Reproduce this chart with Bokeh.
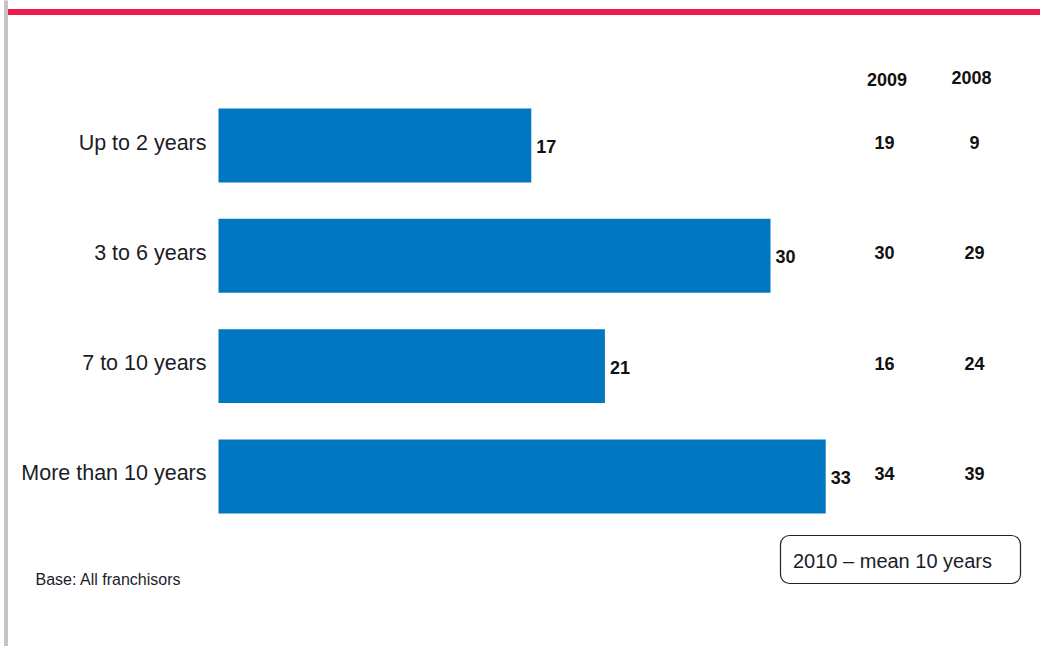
from bokeh.plotting import figure
from bokeh.models import Range1d, ColumnDataSource, Label, BoxAnnotation
from bokeh.core.properties import value
from bokeh.embed import file_html
from bokeh.resources import INLINE

categories = ["Up to 2 years", "3 to 6 years", "7 to 10 years", "More than 10 years"]
values_2010 = [17, 30, 21, 33]
values_2009 = [19, 30, 16, 34]
values_2008 = [9, 29, 24, 39]
col_headers = ["2009", "2008"]
base_note = "Base: All franchisors"
mean_note = "2010 \u2013 mean 10 years"

# pixel geometry helpers (image coordinates)
X0 = 218.0          # bar baseline x
PX_PER_UNIT = 18.4  # pixels per percentage point
Y0 = 145.0          # first bar center
ROW = 110.33        # row spacing

W, H = 1040, 646

p = figure(width=W, height=H, output_backend="svg", toolbar_location=None,
           x_range=Range1d((0 - X0) / PX_PER_UNIT, (W - X0) / PX_PER_UNIT),
           y_range=Range1d((H - Y0) / ROW, (0 - Y0) / ROW),
           min_border=0, outline_line_color=None)
p.axis.visible = False
p.grid.visible = False
p.background_fill_color = "white"
p.border_fill_color = "white"
p.extra_x_ranges = {"px": Range1d(0, W)}
p.extra_y_ranges = {"px": Range1d(H, 0)}

idx = list(range(len(categories)))
src = ColumnDataSource(dict(
    y=idx, cat=categories, v10=values_2010,
    v10s=[str(v) for v in values_2010],
    v09s=[str(v) for v in values_2009],
    v08s=[str(v) for v in values_2008],
    c09=[(884 - X0) / PX_PER_UNIT] * len(idx),
    c08=[(974 - X0) / PX_PER_UNIT] * len(idx),
    lx=[(206 - X0) / PX_PER_UNIT] * len(idx),
))

# decorations
p.quad(left=7, right=W, top=9, bottom=14, color="#EE1B4B",
       x_range_name="px", y_range_name="px")
p.quad(left=4, right=7, top=0, bottom=H, color="#C4C4C4",
       x_range_name="px", y_range_name="px")

p.hbar(y="y", left=0, right="v10", height=0.67, source=src,
       color="#0077C0", line_color=None)

p.text(x="v10", y="y", text="v10s", source=src, x_offset=5, y_offset=1,
       text_font=value("Liberation Sans"), text_font_style="bold",
       text_font_size="18px", text_align="left", text_baseline="middle",
       text_color="#111111")

p.text(x="lx", y="y", text="cat", source=src, y_offset=-3,
       text_font=value("Liberation Sans"), text_font_size="21.5px",
       text_align="right", text_baseline="middle", text_color="#1c1c28")

p.text(x="c09", y="y", text="v09s", source=src, y_offset=-3,
       text_font=value("Liberation Sans"), text_font_style="bold",
       text_font_size="18px", text_align="center", text_baseline="middle",
       text_color="#111111")
p.text(x="c08", y="y", text="v08s", source=src, y_offset=-3,
       text_font=value("Liberation Sans"), text_font_style="bold",
       text_font_size="18px", text_align="center", text_baseline="middle",
       text_color="#111111")

for hx, hy, t in [(886.5, 79, col_headers[0]), (971, 77, col_headers[1])]:
    p.add_layout(Label(x=hx, y=hy, text=t, x_range_name="px", y_range_name="px",
                       text_font="Liberation Sans", text_font_style="bold",
                       text_font_size="18px", text_align="center",
                       text_baseline="middle", text_color="#111111"))

p.add_layout(Label(x=35, y=579, text=base_note, x_range_name="px", y_range_name="px",
                   text_font="Liberation Sans", text_font_size="16px",
                   text_align="left", text_baseline="middle", text_color="#1c1c28"))

p.add_layout(BoxAnnotation(left=780, right=1020, top=535, bottom=583,
                           x_range_name="px", y_range_name="px",
                           fill_color="white", fill_alpha=1.0,
                           line_color="#222222", line_alpha=1.0, line_width=1.2,
                           border_radius=9))
p.add_layout(Label(x=892, y=560, text=mean_note, x_range_name="px", y_range_name="px",
                   text_font="Liberation Sans", text_font_size="20px",
                   text_align="center", text_baseline="middle", text_color="#1c1c28"))

open("out.html", "w").write(file_html(p, INLINE))
